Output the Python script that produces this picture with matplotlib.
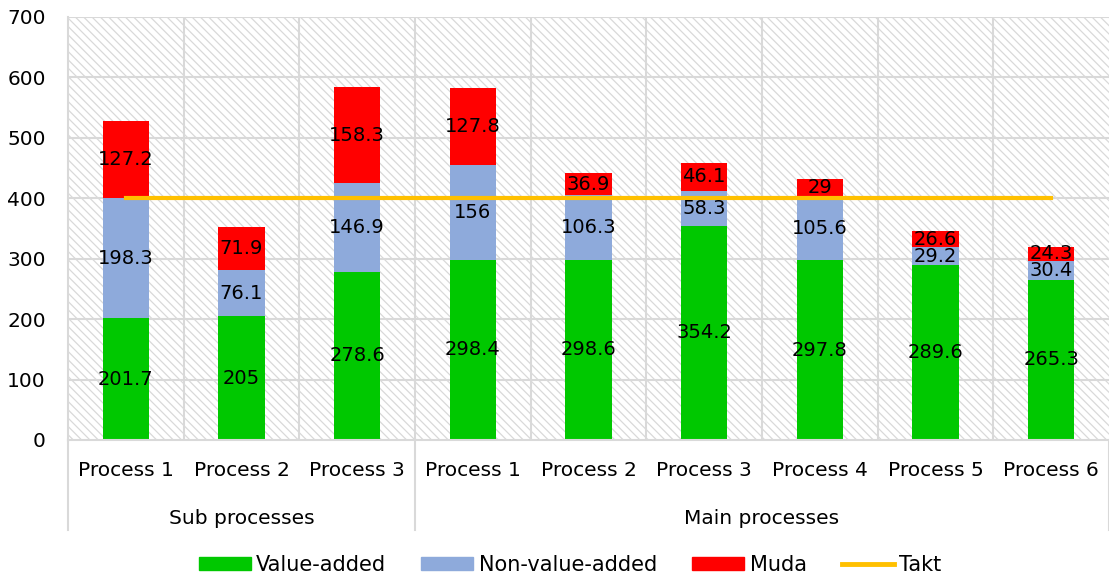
import matplotlib.pyplot as plt
from matplotlib.patches import Rectangle, Patch
from matplotlib.lines import Line2D
import matplotlib.transforms as mtransforms
import numpy as np

plt.rcParams['font.family'] = ['DejaVu Sans']
plt.rcParams['hatch.color'] = '#d4d4d4'
plt.rcParams['hatch.linewidth'] = 0.9

processes = ["Process 1", "Process 2", "Process 3",
             "Process 1", "Process 2", "Process 3", "Process 4", "Process 5", "Process 6"]
groups = ["Sub processes", "Main processes"]
group_sizes = [3, 6]
value_added = [201.7, 205, 278.6, 298.4, 298.6, 354.2, 297.8, 289.6, 265.3]
non_value_added = [198.3, 76.1, 146.9, 156, 106.3, 58.3, 105.6, 29.2, 30.4]
muda = [127.2, 71.9, 158.3, 127.8, 36.9, 46.1, 29, 26.6, 24.3]
takt = [400] * 9

green = '#00c800'
blue = '#8eaadb'
red = '#ff0000'
gold = '#ffc000'
gridc = '#d9d9d9'

fig = plt.figure(figsize=(11.09, 5.8), dpi=100)
ax = fig.add_axes([0.0613, 0.2414, 0.9387, 0.7293])

x = np.arange(len(processes))
ax.set_xlim(-0.5, len(processes) - 0.5)
ax.set_ylim(0, 700)

# hatched background
bg = Rectangle((0, 0), 1, 1, transform=ax.transAxes, facecolor='white',
               edgecolor=gridc, hatch='\\\\\\\\', linewidth=0, zorder=0)
ax.add_patch(bg)

for yv in range(100, 701, 100):
    ax.axhline(yv, color=gridc, lw=1.5, zorder=1)
for xv in np.arange(0.5, len(processes) - 0.5, 1):
    ax.axvline(xv, color=gridc, lw=1.5, zorder=1)

w = 0.4
b1 = ax.bar(x, value_added, w, color=green, zorder=2, label='Value-added')
bottom2 = np.array(value_added)
b2 = ax.bar(x, non_value_added, w, bottom=bottom2, color=blue, zorder=2, label='Non-value-added')
bottom3 = bottom2 + np.array(non_value_added)
b3 = ax.bar(x, muda, w, bottom=bottom3, color=red, zorder=2, label='Muda')
ax.plot(x, takt, color=gold, lw=3, zorder=3, label='Takt')

for bars in (b1, b2, b3):
    for r in bars:
        h = r.get_height()
        ax.text(r.get_x() + r.get_width() / 2, r.get_y() + h / 2, f"{h:g}",
                ha='center', va='center', fontsize=14, color='black', zorder=4)

for s in ['top', 'right']:
    ax.spines[s].set_visible(False)
for s in ['left', 'bottom']:
    ax.spines[s].set_color(gridc)
    ax.spines[s].set_linewidth(1.5)

ax.set_yticks(range(0, 701, 100))
ax.set_xticks(x)
ax.set_xticklabels(processes)
ax.tick_params(axis='y', length=0, pad=16, labelsize=14.5)
ax.tick_params(axis='x', length=0, pad=15, labelsize=14.5)

# group labels and separators under the axis
trans = mtransforms.blended_transform_factory(ax.transData, ax.transAxes)
start = -0.5
for g, n in zip(groups, group_sizes):
    ax.text(start + n / 2, -0.185, g, transform=trans, ha='center', va='center',
            fontsize=14.5)
    start += n
for xv in [-0.5, 2.5, 8.5]:
    ax.add_line(Line2D([xv, xv], [0, -0.212], transform=trans, color=gridc,
                       lw=1.5, clip_on=False))

handles = [Patch(color=green), Patch(color=blue), Patch(color=red),
           Line2D([], [], color=gold, lw=3.5)]
fig.legend(handles, ['Value-added', 'Non-value-added', 'Muda', 'Takt'],
           loc='center', bbox_to_anchor=(0.514, 0.026), ncol=4, frameon=False,
           fontsize=15, handlelength=2.5, handleheight=0.6, columnspacing=1.7,
           handletextpad=0.25, borderpad=0)

fig.savefig('out.png', dpi=100)
